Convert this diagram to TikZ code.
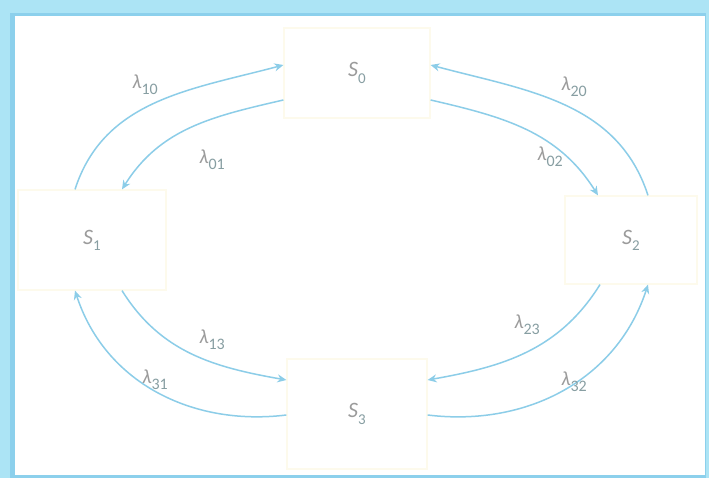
\documentclass[tikz,border=0pt]{standalone}
\usepackage{fontspec}
\setmainfont{Carlito}
\usepackage{tikz}
\usetikzlibrary{arrows.meta,positioning}
\definecolor{framefill}{RGB}{172,228,245}
\definecolor{frameedge}{RGB}{140,208,236}
\definecolor{flowblue}{RGB}{140,205,232}
\definecolor{boxedge}{RGB}{253,250,236}
\definecolor{labelgray}{RGB}{155,155,155}
\definecolor{subgray}{RGB}{135,158,162}
% state name and transition rate
\newcommand{\state}[1]{\textit{S}\raisebox{-0.28em}{\fontsize{15}{15}\selectfont\color{subgray}#1}}
\newcommand{\rate}[1]{\textit{λ}\raisebox{-0.3em}{\fontsize{16}{16}\selectfont\color{subgray}#1}}

\begin{document}
\begin{tikzpicture}[
  x=1pt, y=1pt,
  statebox/.style={draw=boxedge, line width=1.2pt, fill=white,
    font=\fontsize{22}{26}\selectfont, text=labelgray},
  ratelabel/.style={font=\fontsize{20}{22}\selectfont, text=labelgray},
  flow/.style={draw=flowblue, line width=1.5pt,
    -{Stealth[length=9pt,width=8pt]}},
  >=Stealth
]
% frame
\fill[framefill] (0,0) rectangle (709,478);
\fill[frameedge] (10,0) rectangle (706,465);
\fill[white] (15,3) rectangle (705,462);
\useasboundingbox (0,0) rectangle (709,478);

% states
\node[statebox, minimum width=146pt, minimum height=90pt] (s0) at (357,405) {\state{0}};
\node[statebox, minimum width=148pt, minimum height=100pt] (s1) at (92,238) {\state{1}};
\node[statebox, minimum width=132pt, minimum height=88pt] (s2) at (631,238) {\state{2}};
\node[statebox, minimum width=140pt, minimum height=110pt] (s3) at (357,64) {\state{3}};

% transitions
\draw[flow] ([xshift=-17pt]s1.north) to[out=72, in=195] ([yshift=8pt]s0.west);
\draw[flow] ([yshift=-27pt]s0.west) to[out=193, in=58] ([xshift=30pt]s1.north);
\draw[flow] ([xshift=17pt]s2.north) to[out=108, in=-15] ([yshift=8pt]s0.east);
\draw[flow] ([yshift=-27pt]s0.east) to[out=-13, in=122] ([xshift=-33pt]s2.north);
\draw[flow] ([xshift=30pt]s1.south) to[out=-58, in=170] ([yshift=34pt]s3.west);
\draw[flow] ([yshift=-1pt]s3.west) to[out=187, in=-72] ([xshift=-17pt]s1.south);
\draw[flow] ([xshift=-31pt]s2.south) to[out=238, in=10] ([yshift=34pt]s3.east);
\draw[flow] ([yshift=-1pt]s3.east) to[out=-7, in=252] ([xshift=17pt]s2.south);

% rates
\node[ratelabel] (l10) at (145,393) {\rate{10}};
\node[ratelabel] (l01) at (212,318) {\rate{01}};
\node[ratelabel] (l20) at (574,391) {\rate{20}};
\node[ratelabel] (l02) at (550,321) {\rate{02}};
\node[ratelabel] (l13) at (212,138) {\rate{13}};
\node[ratelabel] (l31) at (155,98) {\rate{31}};
\node[ratelabel] (l23) at (527,153) {\rate{23}};
\node[ratelabel] (l32) at (574,96) {\rate{32}};
\end{tikzpicture}
\end{document}
